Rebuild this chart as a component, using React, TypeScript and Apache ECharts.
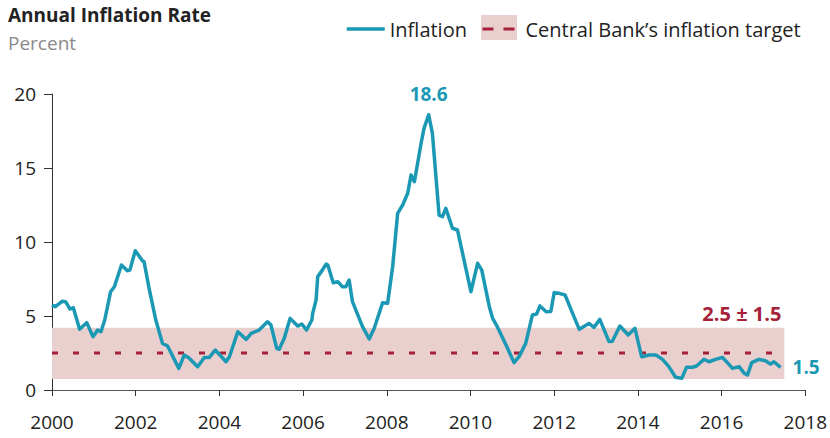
import React, { useEffect, useRef } from "react";
import * as echarts from "echarts";

// Annual inflation rate, percent (decimal year, value)
const inflationYears: number[] = [
  2000.0, 2000.08, 2000.25, 2000.33, 2000.43, 2000.51, 2000.66, 2000.83, 2000.98, 2001.09,
  2001.17, 2001.26, 2001.4, 2001.49, 2001.66, 2001.8, 2001.86, 2001.99, 2002.16, 2002.2,
  2002.32, 2002.48, 2002.64, 2002.76, 2002.81, 2003.03, 2003.16, 2003.28, 2003.48, 2003.64,
  2003.76, 2003.9, 2004.16, 2004.24, 2004.44, 2004.64, 2004.76, 2004.95, 2005.15, 2005.23,
  2005.37, 2005.43, 2005.55, 2005.69, 2005.87, 2005.97, 2006.08, 2006.21, 2006.23, 2006.31,
  2006.35, 2006.46, 2006.55, 2006.59, 2006.72, 2006.83, 2006.94, 2007.02, 2007.1, 2007.18,
  2007.42, 2007.58, 2007.7, 2007.9, 2008.02, 2008.14, 2008.26, 2008.38, 2008.5, 2008.58,
  2008.66, 2008.82, 2008.89, 2009.0, 2009.09, 2009.25, 2009.33, 2009.41, 2009.57, 2009.69,
  2010.01, 2010.17, 2010.27, 2010.45, 2010.53, 2010.64, 2010.85, 2011.04, 2011.16, 2011.32,
  2011.48, 2011.58, 2011.66, 2011.81, 2011.92, 2012.0, 2012.12, 2012.26, 2012.44, 2012.6,
  2012.83, 2012.95, 2013.09, 2013.31, 2013.39, 2013.57, 2013.77, 2013.93, 2014.09, 2014.27,
  2014.43, 2014.59, 2014.74, 2014.9, 2015.05, 2015.16, 2015.3, 2015.4, 2015.58, 2015.7,
  2015.86, 2016.02, 2016.14, 2016.26, 2016.42, 2016.54, 2016.62, 2016.72, 2016.89, 2017.05,
  2017.17, 2017.25, 2017.41,
];
const inflationValues: number[] = [
  5.74, 5.63, 6.0, 5.95, 5.47, 5.56, 4.1, 4.55, 3.6, 4.05,
  3.94, 4.73, 6.64, 6.98, 8.45, 8.06, 8.1, 9.41, 8.74, 8.67,
  6.87, 4.73, 3.15, 2.97, 2.7, 1.46, 2.36, 2.14, 1.57, 2.2,
  2.2, 2.7, 1.91, 2.25, 3.94, 3.42, 3.83, 4.05, 4.61, 4.4,
  2.82, 2.75, 3.49, 4.84, 4.32, 4.46, 4.05, 4.73, 5.18, 6.08,
  7.66, 8.1, 8.51, 8.45, 7.25, 7.32, 6.98, 6.98, 7.43, 5.97,
  4.28, 3.45, 4.17, 5.9, 5.86, 8.33, 11.94, 12.5, 13.29, 14.53,
  14.07, 16.67, 17.68, 18.6, 17.34, 11.82, 11.71, 12.27, 10.93, 10.81,
  6.64, 8.56, 8.1, 5.63, 4.84, 4.28, 3.04, 1.85, 2.25, 3.15,
  5.07, 5.13, 5.68, 5.29, 5.3, 6.58, 6.53, 6.42, 5.18, 4.1,
  4.5, 4.23, 4.77, 3.27, 3.29, 4.32, 3.72, 4.17, 2.25, 2.36,
  2.36, 2.07, 1.58, 0.86, 0.79, 1.53, 1.53, 1.62, 2.07, 1.91,
  2.07, 2.2, 1.85, 1.46, 1.58, 1.13, 1.01, 1.85, 2.07, 1.98,
  1.75, 1.91, 1.53,
];

// Central bank target
const targetValue = 2.5;
const targetBandLow = 0.75;
const targetBandHigh = 4.2;
const targetStart = 2000;
const targetEnd = 2017.5;

const xTicks = { min: 2000, max: 2018, interval: 2 };
const yTicks = { min: 0, max: 20, interval: 5 };

const TEAL = "#1B99B4";
const RED = "#A5213A";
const PINK = "#EACFCF";
const FONT = "Open Sans";
const TARGET_NAME = "Central Bank\u2019s inflation target";

export default function App() {
  const ref = useRef<HTMLDivElement>(null);

  useEffect(() => {
    if (!ref.current) return;
    const chart = echarts.init(ref.current, undefined, { renderer: "svg" });
    const lineData = inflationYears.map((y, i) => [y, inflationValues[i]]);
    const lastIdx = inflationValues.length - 1;
    const maxIdx = inflationValues.indexOf(Math.max(...inflationValues));

    chart.setOption({
      animation: false,
      backgroundColor: "#ffffff",
      textStyle: { fontFamily: FONT },
      title: {
        text: "Annual Inflation Rate",
        subtext: "Percent",
        left: 8,
        top: 5,
        padding: 0,
        itemGap: 9,
        textStyle: { fontFamily: FONT, fontSize: 19, fontWeight: "bold", color: "#222" },
        subtextStyle: { fontFamily: FONT, fontSize: 19, color: "#8a8a8a" },
      },
      legend: {
        show: true,
        orient: "horizontal",
        left: 340,
        top: 14,
        itemWidth: 38,
        itemHeight: 14,
        itemGap: 14,
        itemStyle: { opacity: 0 },
        textStyle: { fontFamily: FONT, fontSize: 20, color: "#222" },
        data: [
          { name: "Inflation", lineStyle: { width: 3.5 } },
          { name: TARGET_NAME, lineStyle: { type: [11, 10], width: 3 } },
        ],
      },
      graphic: [
        { type: "rect", z: 0, left: 481, top: 15, shape: { width: 36, height: 25 }, style: { fill: PINK } },
      ],
      grid: { left: 52, right: 24, top: 94, bottom: 48 },
      xAxis: {
        type: "value",
        min: xTicks.min,
        max: xTicks.max,
        interval: xTicks.interval,
        splitLine: { show: false },
        axisLine: { show: true, onZero: false, lineStyle: { color: "#555", width: 1 } },
        axisTick: { show: true, length: 6, lineStyle: { color: "#333" } },
        axisLabel: { margin: 22, fontSize: 19, color: "#222", fontFamily: FONT, formatter: (v: number) => String(v) },
      },
      yAxis: {
        type: "value",
        min: yTicks.min,
        max: yTicks.max,
        interval: yTicks.interval,
        splitLine: { show: false },
        axisLine: { show: true, lineStyle: { color: "#333", width: 1 } },
        axisTick: { show: true, length: 8, lineStyle: { color: "#333" } },
        axisLabel: { margin: 16, fontSize: 19, color: "#222", fontFamily: FONT },
      },
      series: [
        {
          name: TARGET_NAME,
          type: "line",
          z: 1,
          symbol: "none",
          silent: true,
          data: [
            [targetStart, targetValue],
            [targetEnd, targetValue],
          ],
          lineStyle: { color: RED, width: 3, type: [6, 15] },
          itemStyle: { color: RED },
          markArea: {
            silent: true,
            itemStyle: { color: PINK },
            label: {
              show: true,
              position: "insideTopRight",
              distance: 3,
              offset: [0, -27],
              formatter: `${targetValue} \u00B1 ${(targetValue - 1).toFixed(1)}`,
              fontFamily: FONT,
              fontSize: 20,
              fontWeight: "bold",
              color: RED,
            },
            data: [
              [
                { xAxis: targetStart, yAxis: targetBandLow },
                { xAxis: targetEnd, yAxis: targetBandHigh },
              ],
            ],
          },
        },
        {
          name: "Inflation",
          type: "line",
          z: 3,
          symbol: "none",
          data: lineData,
          lineStyle: { color: TEAL, width: 3.5, join: "round" },
          itemStyle: { color: TEAL },
          markPoint: {
            symbol: "circle",
            symbolSize: 0,
            silent: true,
            data: [
              {
                coord: lineData[maxIdx],
                label: {
                  show: true,
                  position: "top",
                  distance: 11,
                  formatter: inflationValues[maxIdx].toFixed(1),
                  fontFamily: FONT,
                  fontSize: 19,
                  fontWeight: "bold",
                  color: TEAL,
                },
              },
              {
                coord: lineData[lastIdx],
                label: {
                  show: true,
                  position: "right",
                  distance: 12,
                  formatter: inflationValues[lastIdx].toFixed(1),
                  fontFamily: FONT,
                  fontSize: 19,
                  fontWeight: "bold",
                  color: TEAL,
                },
              },
            ],
          },
        },
      ],
    });
    return () => chart.dispose();
  }, []);

  return (
    <div
      ref={ref}
      style={{ position: "fixed", left: 0, top: 0, width: 830, height: 438, background: "#fff" }}
    />
  );
}
